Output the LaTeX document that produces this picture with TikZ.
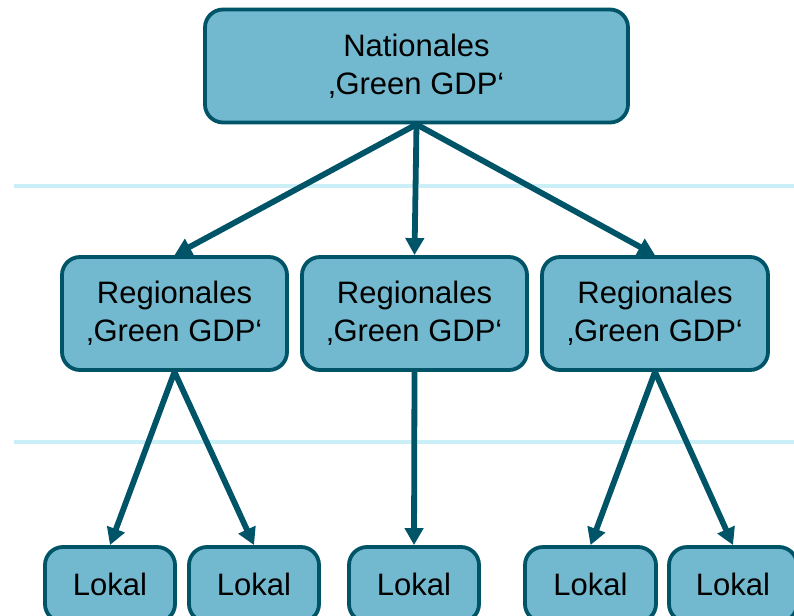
\documentclass[tikz,border=0pt]{standalone}
\usepackage{fontspec}
\setmainfont{Liberation Sans}
\usetikzlibrary{arrows.meta}
\definecolor{boxfill}{HTML}{72B8CE}
\definecolor{boxline}{HTML}{005468}
\definecolor{sepline}{HTML}{CBEFF7}
\tikzset{
  gbox/.style={draw=boxline, fill=boxfill, line width=3.8pt, rounded corners=18pt,
    align=center, font=\fontsize{31}{38}\selectfont, inner sep=0pt, text=black},
  conn/.style={draw=boxline, line width=5.8pt, -{Triangle[length=17pt,width=18pt]}},
  sep/.style={draw=sepline, line width=4pt}
}
\begin{document}
\begin{tikzpicture}[x=1pt,y=-1pt]
\clip (0,0) rectangle (794,615);
\fill[white] (0,0) rectangle (794,615);
\coordinate (s1a) at (14,186);
\coordinate (s1b) at (794,186);
\coordinate (s2a) at (14,442);
\coordinate (s2b) at (794,442);
\draw[sep] (s1a) -- (s1b);
\draw[sep] (s2a) -- (s2b);

\node[gbox, minimum width=423pt, minimum height=113pt] (nat) at (416.5,66) {Nationales\\‚Green GDP‘};

\node[gbox, minimum width=225pt, minimum height=113pt] (r1) at (174.5,313.5) {Regionales\\‚Green GDP‘};
\node[gbox, minimum width=225pt, minimum height=113pt] (r2) at (414.5,313.5) {Regionales\\‚Green GDP‘};
\node[gbox, minimum width=226pt, minimum height=113pt] (r3) at (655,313.5) {Regionales\\‚Green GDP‘};

\node[gbox, minimum width=130pt, minimum height=75pt] (l1) at (110,584.5) {Lokal};
\node[gbox, minimum width=130pt, minimum height=75pt] (l2) at (254,584.5) {Lokal};
\node[gbox, minimum width=130pt, minimum height=75pt] (l3) at (414,584.5) {Lokal};
\node[gbox, minimum width=131pt, minimum height=75pt] (l4) at (590.5,584.5) {Lokal};
\node[gbox, minimum width=128pt, minimum height=75pt] (l5) at (733,584.5) {Lokal};

\draw[conn] (nat.south) -- (r1.north);
\draw[conn] (nat.south) -- (r2.north);
\draw[conn] (nat.south) -- (r3.north);

\draw[conn] (r1.south) -- (l1.north);
\draw[conn] (r1.south) -- (l2.north);
\draw[conn] (r2.south) -- (l3.north);
\draw[conn] (r3.south) -- (l4.north);
\draw[conn] (r3.south) -- (l5.north);
\end{tikzpicture}
\end{document}
